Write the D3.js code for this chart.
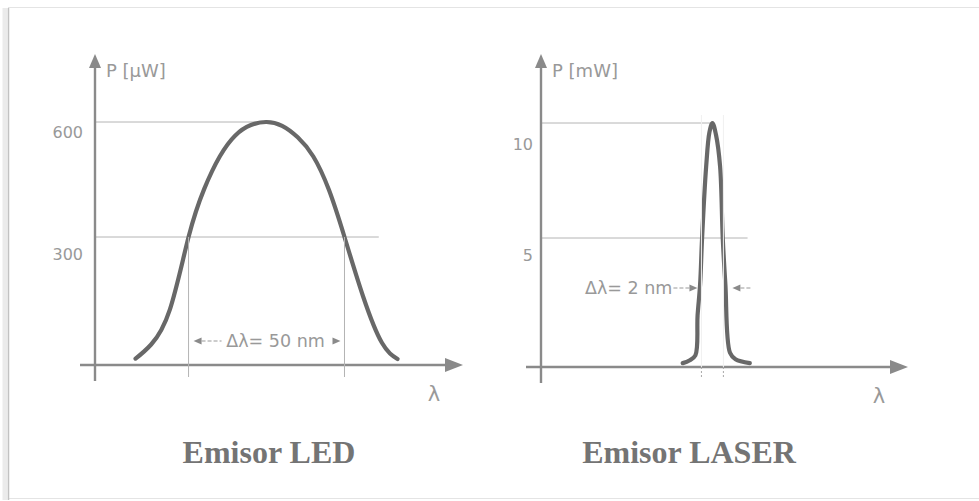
<!DOCTYPE html>
<html>
<head>
<meta charset="utf-8">
<script src="https://cdn.jsdelivr.net/npm/d3@7"></script>
<style>
  html, body { margin: 0; padding: 0; background: #fff; }
  svg { display: block; }
  .lbl { font-family: "DejaVu Sans", sans-serif; fill: #999; }
  .title { font-family: "Liberation Serif", serif; font-weight: bold; fill: #747474; }
</style>
</head>
<body>
<div id="chart"></div>
<script>
// LED spectrum (wavelength in nm, power in uW)
const ledLambda = [808, 813, 819, 825, 830, 835, 840, 845, 850, 855, 860, 865, 870, 875, 881, 887, 892]
const ledPower  = [15, 48, 130, 300, 425, 510, 565, 592, 600, 590, 560, 510, 423, 300, 160, 52, 14]
const ledTicks  = [300, 600]
const ledRefEnd = [886, 850]     // where each reference line stops (nm)
const ledFwhm   = [825, 875]

// LASER spectrum (wavelength in nm, power in mW)
const laserLambda = [1297.3, 1297.9, 1298.45, 1298.65, 1298.88, 1299.06, 1299.43, 1299.73, 1300, 1300.32, 1300.7, 1300.94, 1301.18, 1301.6, 1302.1, 1303.4]
const laserPower  = [0.15, 0.25, 0.45, 2.0, 3.2, 5.0, 8.1, 9.6, 10, 9.5, 8.1, 5.0, 3.2, 0.55, 0.3, 0.15]
const laserTicks  = [5, 10]
const laserRefEnd = [1303.2, 1300]
const laserFwhm   = [1299, 1301]

const titles = ['Emisor LED', 'Emisor LASER']
const units  = ['P [\u00b5W]', 'P [mW]']

const width = 979, height = 501
const axisColor = '#8a8a8a', refColor = '#b4b4b4', curveColor = '#686868'

const svg = d3.select('#chart').append('svg')
  .attr('width', width)
  .attr('height', height)

// photo frame
svg.append('rect')
  .attr('x', 8.5).attr('y', 7.5)
  .attr('width', width).attr('height', 491)
  .attr('fill', '#fff')
  .attr('stroke', '#e4e4e4')
svg.append('line')
  .attr('x1', 5).attr('x2', 5).attr('y1', 8).attr('y2', 500)
  .attr('stroke', '#ebebeb').attr('stroke-width', 5)
svg.append('line')
  .attr('x1', 8.5).attr('x2', 8.5).attr('y1', 8).attr('y2', 500)
  .attr('stroke', '#c2c2c2').attr('stroke-width', 1.5)

function tri(g, x, y, dir, len, half, color) {
  // dir: 'r', 'l', 'u'
  let pts
  if (dir === 'r') pts = [[x, y], [x - len, y - half], [x - len, y + half]]
  else if (dir === 'l') pts = [[x, y], [x + len, y - half], [x + len, y + half]]
  else pts = [[x, y], [x - half, y + len], [x + half, y + len]]
  g.append('path').attr('d', 'M' + pts.join('L') + 'Z').attr('fill', color)
}

function panel(cfg) {
  const g = svg.append('g')
  const x = cfg.x, y = cfg.y
  const x0 = x.range()[0], x1 = x.range()[1]
  const y0 = y(0)

  // reference lines
  g.selectAll('.ref')
    .data(cfg.ticks)
    .enter().append('line')
    .attr('x1', x0).attr('x2', (d, i) => x(cfg.refEnd[i]))
    .attr('y1', d => y(d)).attr('y2', d => y(d))
    .attr('stroke', refColor).attr('stroke-width', 1)

  // tick labels through a d3 axis
  const ax = g.append('g')
    .attr('transform', 'translate(' + x0 + ',0)')
    .call(d3.axisLeft(y).tickValues(cfg.ticks).tickSize(0).tickPadding(cfg.pad))
  ax.select('.domain').remove()
  ax.selectAll('text')
    .attr('class', 'lbl')
    .attr('font-size', 16)
    .attr('dy', (d, i) => cfg.labelDy[i])

  // curve
  const pts = cfg.lambda.map((l, i) => [l, cfg.power[i]])
  g.append('path')
    .datum(pts)
    .attr('d', d3.line().x(d => x(d[0])).y(d => y(d[1])).curve(cfg.curve))
    .attr('fill', 'none')
    .attr('stroke', curveColor)
    .attr('stroke-width', 4.2)
    .attr('stroke-linecap', 'round')
    .attr('stroke-linejoin', 'round')

  // axes
  g.append('line')
    .attr('x1', x0 - 15).attr('x2', x1 - 14)
    .attr('y1', y0).attr('y2', y0)
    .attr('stroke', axisColor).attr('stroke-width', 2.4)
  tri(g, x1, y0, 'r', 18, 7, axisColor)
  g.append('line')
    .attr('x1', x0).attr('x2', x0)
    .attr('y1', y0 + 16).attr('y2', 64)
    .attr('stroke', axisColor).attr('stroke-width', 2.4)
  tri(g, x0, 54, 'u', 14, 6, axisColor)

  g.append('text').attr('class', 'lbl')
    .attr('x', x0 + 11).attr('y', 77)
    .attr('font-size', 18)
    .text(cfg.unit)
  g.append('text').attr('class', 'lbl')
    .attr('x', x1 - 29).attr('y', y0 + 36)
    .attr('text-anchor', 'middle')
    .attr('font-size', 21)
    .text('\u03bb')

  g.append('text').attr('class', 'title')
    .attr('x', cfg.titleX).attr('y', 463)
    .attr('text-anchor', 'middle')
    .attr('font-size', 32)
    .text(cfg.title)
  return g
}

// ---- LED ----
const ledX = d3.scaleLinear().domain([795, 913]).range([95, 463])
const ledY = d3.scaleLinear().domain([0, 300, 600]).range([365, 237, 122])
const gLed = panel({
  x: ledX, y: ledY, lambda: ledLambda, power: ledPower, ticks: ledTicks,
  refEnd: ledRefEnd, unit: units[0], title: titles[0], titleX: 269, pad: 12,
  labelDy: [22, 15], curve: d3.curveNatural
})
gLed.selectAll('.fw')
  .data(ledFwhm)
  .enter().append('line')
  .attr('x1', d => ledX(d)).attr('x2', d => ledX(d))
  .attr('y1', ledY(300)).attr('y2', ledY(0) + 12)
  .attr('stroke', refColor).attr('stroke-width', 1)
{
  const ay = 341
  const xa = ledX(ledFwhm[0]) + 5, xb = ledX(ledFwhm[1]) - 4
  tri(gLed, xa, ay, 'l', 8, 3.5, '#8a8a8a')
  tri(gLed, xb, ay, 'r', 8, 3.5, '#8a8a8a')
  gLed.append('line').attr('x1', xa + 8).attr('x2', xa + 28).attr('y1', ay).attr('y2', ay)
    .attr('stroke', '#999').attr('stroke-dasharray', '4,2')
  gLed.append('text').attr('class', 'lbl')
    .attr('x', ledX(850) + 9).attr('y', ay + 6)
    .attr('text-anchor', 'middle').attr('font-size', 17.5)
    .text('\u0394\u03bb= 50 nm')
}

// ---- LASER ----
const laserX = d3.scaleLinear().domain([1284.4, 1317.8]).range([541, 908])
const laserY = d3.scaleLinear().domain([0, 5, 10]).range([367, 238, 123])
const gLas = panel({
  x: laserX, y: laserY, lambda: laserLambda, power: laserPower, ticks: laserTicks,
  refEnd: laserRefEnd, unit: units[1], title: titles[1], titleX: 689, pad: 8,
  labelDy: [22, 26], curve: d3.curveCatmullRom.alpha(0.5)
})
gLas.selectAll('.fw')
  .data(laserFwhm)
  .enter().append('line')
  .attr('x1', d => laserX(d)).attr('x2', d => laserX(d))
  .attr('y1', laserY(0)).attr('y2', laserY(0) + 11)
  .attr('stroke', '#a8a8a8').attr('stroke-width', 1)
  .attr('stroke-dasharray', '2,2')
gLas.selectAll('.fwf')
  .data(laserFwhm)
  .enter().append('line')
  .attr('x1', d => laserX(d)).attr('x2', d => laserX(d))
  .attr('y1', laserY(10) - 8).attr('y2', laserY(0))
  .attr('stroke', '#f0f0f0').attr('stroke-width', 1)
{
  const ay = 288
  const xa = laserX(laserFwhm[0]) - 4, xb = laserX(laserFwhm[1]) + 9
  tri(gLas, xa, ay, 'r', 8, 3.5, '#8a8a8a')
  tri(gLas, xb, ay, 'l', 8, 3.5, '#8a8a8a')
  gLas.append('line').attr('x1', xa - 24).attr('x2', xa - 8).attr('y1', ay).attr('y2', ay)
    .attr('stroke', '#999').attr('stroke-dasharray', '4,2')
  gLas.append('line').attr('x1', xb + 8).attr('x2', xb + 20).attr('y1', ay).attr('y2', ay)
    .attr('stroke', '#999').attr('stroke-dasharray', '4,2')
  gLas.append('text').attr('class', 'lbl')
    .attr('x', xa - 25).attr('y', ay + 6)
    .attr('text-anchor', 'end').attr('font-size', 17.5)
    .text('\u0394\u03bb= 2 nm')
}
</script>
</body>
</html>
